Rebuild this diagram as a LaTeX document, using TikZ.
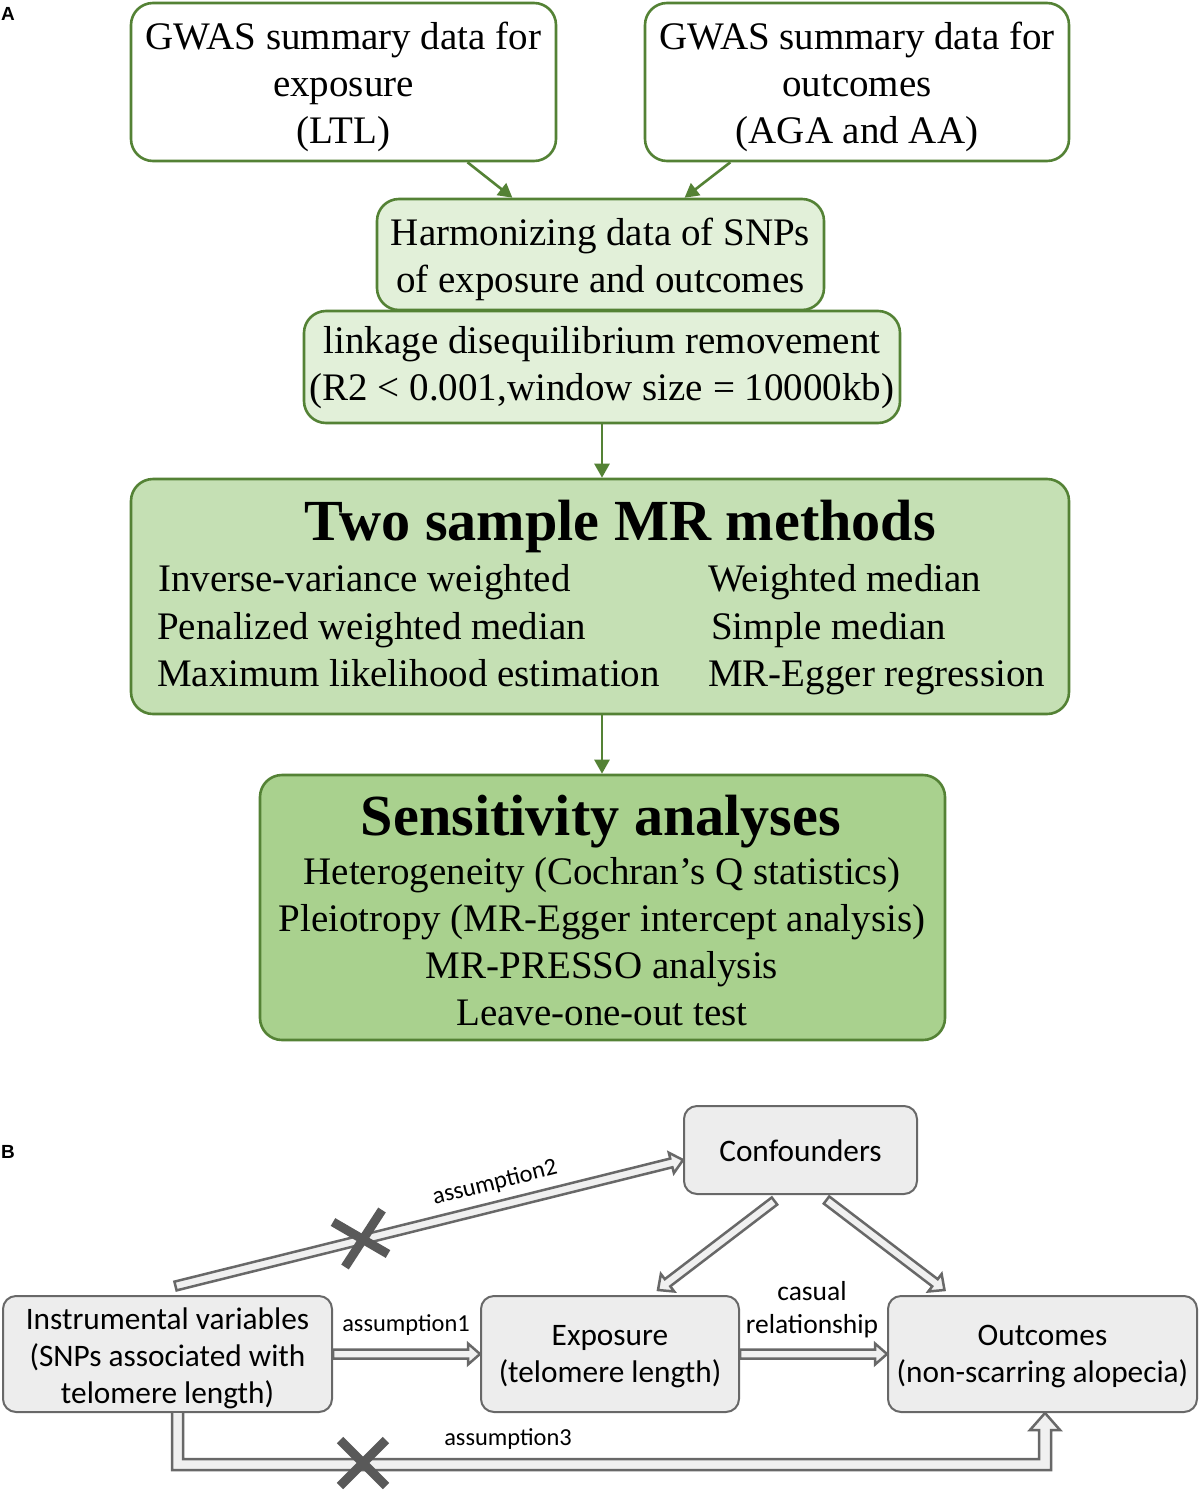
\documentclass[tikz,border=0pt]{standalone}
\usepackage{fontspec}
\setmainfont{Liberation Serif}
\newfontfamily\calfont{Carlito}
\newfontfamily\arialfont{Liberation Sans}
\usetikzlibrary{arrows.meta,calc}
\definecolor{gstroke}{HTML}{548235}
\definecolor{gfillA}{HTML}{E2F0D9}
\definecolor{gfillB}{HTML}{C5E0B4}
\definecolor{gfillC}{HTML}{A9D18E}
\definecolor{bstroke}{HTML}{686868}
\definecolor{bfill}{HTML}{EDEDED}
\definecolor{afill}{HTML}{F0F0F0}
\definecolor{xcol}{HTML}{595959}
% block arrow: #1 from, #2 to, #3 half shaft, #4 half head, #5 head length
\newcommand\blockarr[5]{%
  \coordinate (bah) at ($(#2)!#5!(#1)$);
  \draw[barr] ($(#1)!#3!90:(#2)$) -- ($(bah)!#3!90:(#2)$) -- ($(bah)!#4!90:(#2)$) -- (#2)
     -- ($(bah)!#4!-90:(#2)$) -- ($(bah)!#3!-90:(#2)$) -- ($(#1)!#3!-90:(#2)$) -- cycle;
}
\begin{document}
\begin{tikzpicture}[x=1pt,y=-1pt,
  gbox/.style={draw=gstroke, line width=2.6pt, rounded corners=22pt, inner sep=0pt},
  gtext/.style={inner sep=0pt, align=center, font=\fontsize{39}{47}\selectfont},
  gtitle/.style={inner sep=0pt, font=\fontsize{58.2}{60}\selectfont\bfseries},
  gar/.style={draw=gstroke, line width=2.6pt, -{Triangle[length=14pt,width=15pt]}},
  bbox/.style={draw=bstroke, line width=2pt, fill=bfill, rounded corners=13pt, inner sep=0pt},
  btext/.style={inner sep=0pt, align=center, font=\calfont\fontsize{31.3}{37}\selectfont},
  blabel/.style={inner sep=0pt, font=\calfont\fontsize{24.4}{33}\selectfont},
  barr/.style={draw=bstroke, line width=2.5pt, fill=afill, line join=miter},
  xmark/.style={draw=xcol, line width=9pt},
  plabel/.style={inner sep=0pt, font=\arialfont\bfseries\fontsize{19}{22}\selectfont}]
\useasboundingbox (0,0) rectangle (1200,1491);
\fill[white] (0,0) rectangle (1200,1491);

\node[plabel] (lA) at (8,14) {A};
\node[plabel] (lB) at (8,1152) {B};

% Part A
\node[gbox, fill=white, minimum width=425pt, minimum height=158pt] (b1) at (343.5,82) {};
\node[gbox, fill=white, minimum width=424pt, minimum height=158pt] (b2) at (857,82) {};
\node[gbox, fill=gfillA, minimum width=447pt, minimum height=111pt] (b3) at (600.5,254.5) {};
\node[gbox, fill=gfillA, minimum width=596pt, minimum height=112pt] (b4) at (602,367) {};
\node[gbox, fill=gfillB, minimum width=938pt, minimum height=235pt] (b5) at (600,596.5) {};
\node[gbox, fill=gfillC, minimum width=685pt, minimum height=265pt] (b6) at (602.5,907.5) {};

\node[gtext] (t1) at ($(b1.center)+(0,5)$) {GWAS summary data for\\exposure\\(LTL)};
\node[gtext] (t2) at ($(b2.center)+(0,5)$) {GWAS summary data for\\outcomes\\(AGA and AA)};
\node[gtext] (t3) at ($(b3.center)+(0,5)$) {Harmonizing data of SNPs\\of exposure and outcomes};
\node[gtext] (t4) at ($(b4.center)+(0,1)$) {linkage disequilibrium removement\\(R2 {\textless} 0.001,window size = 10000kb)};

\node[gtitle, anchor=base] (t5) at (620.5,540) {Two sample MR methods};
\node[gtext, anchor=base west] (m1) at (158,591) {Inverse-variance weighted};
\node[gtext, anchor=base west] (m2) at (157,639) {Penalized weighted median};
\node[gtext, anchor=base west] (m3) at (157,686) {Maximum likelihood estimation};
\node[gtext, anchor=base west] (m4) at (708,591) {Weighted median};
\node[gtext, anchor=base west] (m5) at (711,639) {Simple median};
\node[gtext, anchor=base west] (m6) at (708,686) {MR-Egger regression};

\node[gtitle, anchor=base] (t6) at (601,835) {Sensitivity analyses};
\node[gtext, anchor=base] (s1) at (602,884) {Heterogeneity (Cochran’s Q statistics)};
\node[gtext, anchor=base] (s2) at (602,931) {Pleiotropy (MR-Egger intercept analysis)};
\node[gtext, anchor=base] (s3) at (602,978) {MR-PRESSO analysis};
\node[gtext, anchor=base] (s4) at (602,1025) {Leave-one-out test};

\draw[gar] ($(b1.south west)!0.79!(b1.south east)$) -- ($(b3.north west)!0.304!(b3.north east)$);
\draw[gar] ($(b2.south west)!0.203!(b2.south east)$) -- ($(b3.north west)!0.687!(b3.north east)$);
\draw[gar] (b4.south) -- (b4.south |- b5.north);
\draw[gar] (b5.south -| b4.south) -- (b4.south |- b6.north);

% Part B
\node[bbox, minimum width=233pt, minimum height=88pt] (conf) at (800.5,1150) {};
\node[bbox, minimum width=329pt, minimum height=116pt] (iv) at (167.5,1354) {};
\node[bbox, minimum width=258pt, minimum height=116pt] (ex) at (610,1354) {};
\node[bbox, minimum width=309pt, minimum height=116pt] (out) at (1042.5,1354) {};
\node[btext] (tconf) at ($(conf.center)+(0,1)$) {Confounders};
\node[btext] (tiv) at ($(iv.center)+(0,4)$) {Instrumental variables\\(SNPs associated with\\telomere length)};
\node[btext] (tex) at ($(ex.center)+(0,3)$) {Exposure\\(telomere length)};
\node[btext] (tout) at ($(out.center)+(0,3)$) {Outcomes\\(non-scarring alopecia)};

\coordinate (a2s) at ($(iv.north)+(8,-9)$);
\coordinate (a2e) at ($(conf.west)+(0,10)$);
\blockarr{a2s}{a2e}{4.5pt}{10.5pt}{12pt}
\coordinate (c1s) at ($(conf.south)+(-26,6)$);
\coordinate (c1e) at ($(ex.north)+(48,-5)$);
\blockarr{c1s}{c1e}{4.5pt}{11pt}{12pt}
\coordinate (c2s) at ($(conf.south)+(26,5)$);
\coordinate (c2e) at ($(out.north)+(-98,-5)$);
\blockarr{c2s}{c2e}{4.5pt}{11pt}{12pt}
\blockarr{iv.east}{ex.west}{4.5pt}{10.5pt}{12pt}
\blockarr{ex.east}{out.west}{4.5pt}{10.5pt}{12pt}

\coordinate (a3s) at ($(iv.south)+(10,0)$);
\coordinate (a3e) at ($(out.south)+(2.5,0)$);
\draw[barr] ($(a3s)+(-5.5,0)$) -- ($(a3s)+(-5.5,57)$) -- ($(a3e)+(6,57)$) -- ($(a3e)+(6,17)$)
  -- ($(a3e)+(15,17)$) -- (a3e) -- ($(a3e)+(-15,17)$) -- ($(a3e)+(-6,17)$)
  -- ($(a3e)+(-6,46)$) -- ($(a3s)+(5.5,46)$) -- ($(a3s)+(5.5,0)$);

\node[blabel, rotate=14] (l2) at (495,1183) {assumption2};
\node[blabel] (l1) at (406,1325) {assumption1};
\node[blabel] (l3) at (508,1439) {assumption3};
\node[blabel, align=center, font=\calfont\fontsize{27.5}{33}\selectfont] (lc) at (812,1310) {casual\\relationship};

\draw[xmark] (333,1222) -- (388,1254);
\draw[xmark] (382,1210) -- (345,1267);
\draw[xmark] (340,1440) -- (386,1486);
\draw[xmark] (386,1440) -- (340,1486);
\end{tikzpicture}
\end{document}
